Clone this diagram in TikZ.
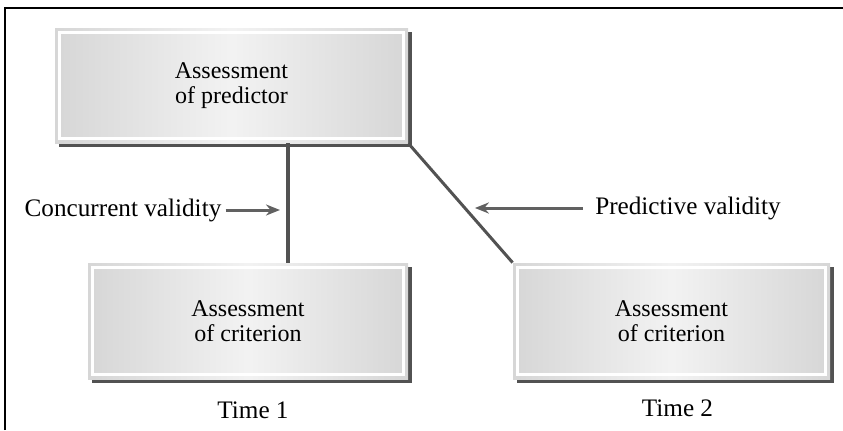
\documentclass[tikz,border=0pt]{standalone}
\usepackage{fontspec}
\setmainfont{Liberation Serif}
\usetikzlibrary{positioning,shadows,arrows.meta}
\tikzset{
  box/.style={rectangle, inner sep=0pt, align=center,
    left color=gray!32, right color=gray!32, middle color=gray!10,
    general shadow={fill=black!68, shadow xshift=2pt, shadow yshift=-2pt},
    path picture={\draw[white, line width=1.2pt]
      ([shift={(2.2pt,-2.2pt)}]path picture bounding box.north west) rectangle
      ([shift={(-2.2pt,2.2pt)}]path picture bounding box.south east);}},
  link/.style={draw=black!68},
  pointer/.style={draw=black!62, line width=1.5pt, -{Stealth[length=7pt,width=5.5pt]}},
  txt/.style={font=\fontsize{12}{12.5}\selectfont, align=center, inner sep=0pt},
  lbl/.style={font=\fontsize{12.6}{13}\selectfont, inner sep=0pt}
}
\begin{document}
\begin{tikzpicture}[x=0.5pt,y=-0.5pt]
\useasboundingbox (0,0) rectangle (843,430);
\draw[line width=1pt] (5,430) -- (5,8) -- (843,8);

\node [box, minimum width=176.5pt, minimum height=57.5pt] (pred)  at (231.5,85.5) {};
\node [txt] at (pred) {Assessment\\of predictor};
\node [box, minimum width=160pt, minimum height=58pt] (crit1) at (248,321) {};
\node [txt] at (crit1) {Assessment\\of criterion};
\node [box, minimum width=158.5pt, minimum height=58pt] (crit2) at (671.5,321) {};
\node [txt] at (crit2) {Assessment\\of criterion};

\node [lbl, below=11pt of crit1, xshift=2.5pt] (time1) {Time 1};
\node [lbl, below=10pt of crit2, xshift=3pt] (time2) {Time 2};

\node [lbl] (conc) at (123,210) {Concurrent validity};
\node [lbl] (pdv)  at (688,208) {Predictive validity};

\draw[link, line width=2pt] ([xshift=20pt]crit1.north |- pred.south) -- ([xshift=20pt]crit1.north);
\draw[link, line width=1.5pt] (pred.south east) -- (crit2.north west);

\draw[pointer] ([xshift=2pt]conc.east) -- ([xshift=16pt]crit1.north |- conc.east);
\draw[pointer] ([xshift=-6pt]pdv.west) -- ([xshift=-60pt]pdv.west);
\end{tikzpicture}
\end{document}
